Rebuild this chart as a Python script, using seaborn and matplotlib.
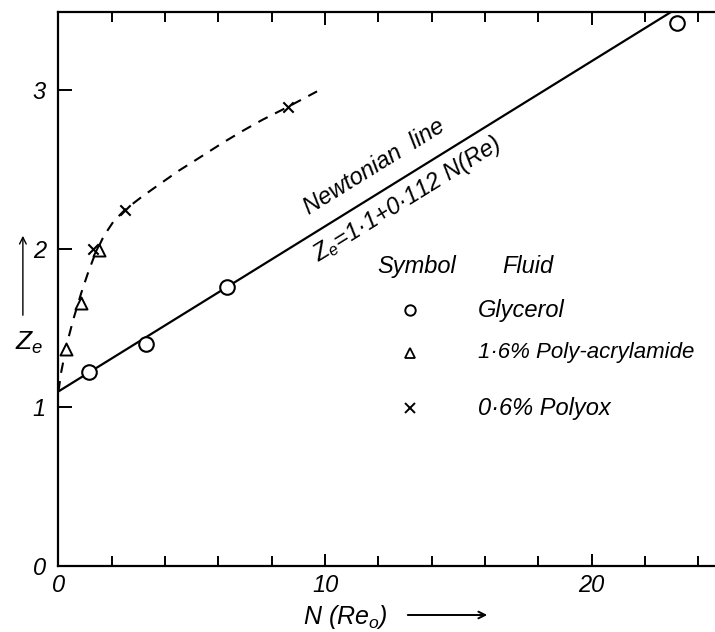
import numpy as np
import pandas as pd
import matplotlib
matplotlib.use("Agg")
import matplotlib.pyplot as plt
import seaborn as sns

# Measured points
glycerol_n = [1.14, 3.27, 6.33, 23.19]
glycerol_z = [1.224, 1.397, 1.756, 3.42]

polyacrylamide_n = [0.30, 0.85, 1.51]
polyacrylamide_z = [1.37, 1.655, 1.99]

polyox_n = [1.30, 2.51, 8.60]
polyox_z = [2.00, 2.24, 2.89]

# Hand-drawn trend through the non-Newtonian data
trend_n = [0.0, 0.10, 0.30, 0.55, 0.85, 1.10, 1.36, 1.70, 2.07, 2.50, 3.08, 3.52,
           4.51, 5.08, 5.64, 6.20, 6.95, 7.64, 8.58, 9.70]
trend_z = [1.10, 1.22, 1.39, 1.55, 1.718, 1.843, 1.96, 2.079, 2.172, 2.245, 2.32, 2.373,
           2.49, 2.55, 2.61, 2.67, 2.745, 2.81, 2.89, 2.99]

# Newtonian line (as plotted against N(Re_o))
newton_intercept = 1.1
newton_slope = 0.104

x_major = [0, 10, 20]
y_major = [0, 1, 2, 3]

sns.set_theme(style="ticks")
FONT = ["Liberation Sans Narrow", "Liberation Sans", "DejaVu Sans"]
plt.rcParams["font.family"] = FONT
plt.rcParams["font.style"] = "italic"
plt.rcParams["text.color"] = "black"
plt.rcParams["axes.labelcolor"] = "black"
plt.rcParams["xtick.color"] = "black"
plt.rcParams["ytick.color"] = "black"
plt.rcParams["mathtext.fontset"] = "custom"
plt.rcParams["mathtext.it"] = "Liberation Sans:italic"
plt.rcParams["mathtext.rm"] = "Liberation Sans:italic"

fig = plt.figure(figsize=(7.15, 6.32), dpi=100)
ax = fig.add_axes([0.0818, 0.1044, 1.0 - 0.0818, 0.8766])

XMAX, YMAX = 24.63, 3.49
ax.set_xlim(0, XMAX)
ax.set_ylim(0, YMAX)

# Newtonian line
n_end = (YMAX - newton_intercept) / newton_slope
line_n = np.array([0.0, n_end])
line_df = pd.DataFrame({"n": line_n, "z": newton_intercept + newton_slope * line_n})
sns.lineplot(data=line_df, x="n", y="z", ax=ax, color="black", lw=1.6)

# dashed curve
trend_df = pd.DataFrame({"n": trend_n, "z": trend_z})
sns.lineplot(data=trend_df, x="n", y="z", ax=ax, color="black", lw=1.5,
             linestyle=(0, (5, 4)))

# data symbols
sns.scatterplot(x=glycerol_n, y=glycerol_z, ax=ax, marker="o", s=110,
                facecolor="white", edgecolor="black", linewidth=1.5, zorder=5)
sns.scatterplot(x=polyacrylamide_n, y=polyacrylamide_z, ax=ax, marker="^", s=75,
                facecolor="white", edgecolor="black", linewidth=1.4, zorder=5)
sns.scatterplot(x=polyox_n, y=polyox_z, ax=ax, marker="x", s=55,
                color="black", linewidth=1.5, zorder=6)

# axes styling
for side in ["left", "bottom", "top"]:
    ax.spines[side].set_linewidth(1.6)
    ax.spines[side].set_color("black")
ax.spines["right"].set_visible(False)

ax.set_xticks(x_major)
ax.set_xticks(np.arange(0, XMAX, 2), minor=True)
ax.set_yticks(y_major)
ax.tick_params(axis="both", which="both", direction="in", color="black",
               labelcolor="black", top=True, labeltop=False, width=1.4)
ax.tick_params(axis="x", which="major", length=9, labelsize=17, pad=6)
ax.tick_params(axis="x", which="minor", length=7)
ax.tick_params(axis="y", which="major", length=10, labelsize=17, pad=9)
for lab in ax.get_xticklabels() + ax.get_yticklabels():
    lab.set_style("italic")
ax.set_xlabel("")
ax.set_ylabel("")

# line annotations
ax.text(9.38, 2.21, "Newtonian  line", rotation=31.8, rotation_mode="anchor",
        ha="left", va="baseline", fontsize=17)
ax.text(9.76, 1.915, "$Z_e$=1·1+0·112 N(Re)", rotation=31.8, rotation_mode="anchor",
        ha="left", va="baseline", fontsize=17)

# symbol key
ax.text(11.97, 1.846, "Symbol", ha="left", va="baseline", fontsize=17)
ax.text(16.66, 1.846, "Fluid", ha="left", va="baseline", fontsize=17)
ax.plot([13.17], [1.613], marker="o", ms=7.5, mfc="white", mec="black", mew=1.4)
ax.plot([13.17], [1.342], marker="^", ms=7, mfc="white", mec="black", mew=1.3)
ax.plot([13.2], [0.996], marker="x", ms=6.5, color="black", mew=1.4)
ax.text(15.72, 1.569, "Glycerol", ha="left", va="baseline", fontsize=17)
ax.text(15.72, 1.311, "1·6% Poly-acrylamide", ha="left", va="baseline", fontsize=16)
ax.text(15.72, 0.951, "0·6% Polyox", ha="left", va="baseline", fontsize=17)

# axis titles with arrows
fig.text(0.021, 1 - 350 / 632, "$Z_e$", ha="left", va="baseline", fontsize=19)
ax.annotate("", xy=(0.032, 1 - 233 / 632), xytext=(0.032, 1 - 318 / 632),
            xycoords="figure fraction", textcoords="figure fraction",
            arrowprops=dict(arrowstyle="->", lw=1.0, color="black"))
fig.text(303 / 715, 1 - 617 / 632, "N (Re$_o$)", ha="left", va="center", fontsize=18)
ax.annotate("", xy=(490 / 715, 1 - 615 / 632), xytext=(405 / 715, 1 - 615 / 632),
            xycoords="figure fraction", textcoords="figure fraction",
            arrowprops=dict(arrowstyle="->", lw=1.4, color="black"))

fig.savefig("out.png", dpi=100)
